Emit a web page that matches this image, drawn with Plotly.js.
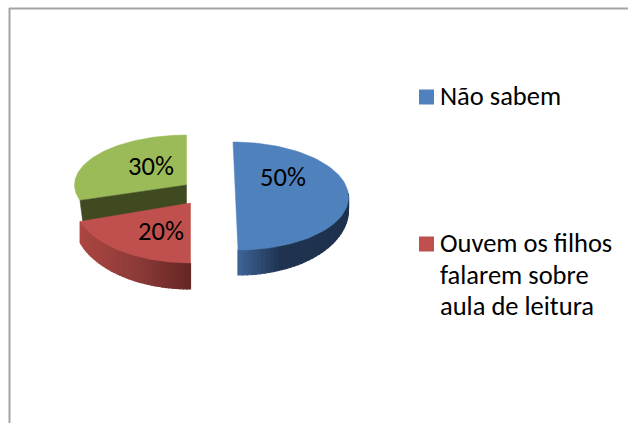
<!DOCTYPE html>
<html>
<head>
<meta charset="utf-8">
<script src="https://cdn.plot.ly/plotly-3.0.1.min.js"></script>
<style>html,body{margin:0;padding:0;background:#fff}</style>
</head>
<body>
<div id="chart" style="width:628px;height:423px"></div>
<script>
// Data
const sliceValues = [50, 20, 30];
const sliceLabels = ["50%", "20%", "30%"];
const legendNames = ["Não sabem", "Ouvem os filhos", "falarem sobre", "aula de leitura"];

// Drawing style (exploded, tilted 3D pie)
const topColors = ["#4f81bd", "#c0504d", "#9bbb59"];
const legendColors = ["#4f81bd", "#c0504d"];
const FONT = "Carlito, Calibri, Lato, 'Open Sans', sans-serif";
const geom = [
  {cx: 235.5, cy: 196, rx: 113, ry: 54, shear: -2.5, d0: 12, d1: 13,
   stops: [[238, [62, 100, 150]], [280, [31, 51, 80]], [350, [30, 50, 78]]]},
  {cx: 190.5, cy: 203, rx: 116, ry: 60, shear: 0, d0: 18.8, d1: 7.2,
   stops: [[80, [172, 70, 66]], [140, [138, 58, 55]], [191, [100, 38, 36]]]},
  {cx: 186.5, cy: 185, rx: 112, ry: 50, shear: 0, d0: 0, d1: 0, stops: []}
];
const labelPos = [[283, 179], [161, 233], [151, 168]];
const legendPos = [[440, 98], [440, 245], [440, 277], [440, 308]];
const swatchPos = [[426.5, 97], [426.5, 244]];

function pt(g, th) {
  return [g.cx + g.rx * Math.sin(th) + g.shear * Math.cos(th),
          g.cy - g.ry * Math.cos(th)];
}
function lowerEdgePoint(g, th) {
  const p = pt(g, th);
  return [p[0], p[1] + g.d0 + g.d1 * Math.abs(Math.cos(th))];
}
function wallColor(g, x) {
  const s = g.stops;
  let a = s[0], b = s[s.length - 1];
  for (let i = 0; i < s.length - 1; i++) if (x >= s[i][0] && x <= s[i + 1][0]) { a = s[i]; b = s[i + 1]; }
  const t = Math.max(0, Math.min(1, (x - a[0]) / ((b[0] - a[0]) || 1)));
  const c = a[1].map((v, i) => Math.round(v + (b[1][i] - v) * t));
  return `rgb(${c[0]},${c[1]},${c[2]})`;
}
function poly(xy, color, lw) {
  const c = xy.concat([xy[0]]);
  return {x: c.map(p => p[0]), y: c.map(p => p[1]), type: "scatter", mode: "lines",
          fill: "toself", fillcolor: color, line: {color: color, width: lw},
          hoverinfo: "skip", showlegend: false};
}

const total = sliceValues.reduce((a, b) => a + b, 0);
let acc = 0;
const ranges = sliceValues.map(v => { const r = [acc, acc + v]; acc += v; return r.map(u => u / total * 2 * Math.PI); });

function topFace(i) {
  const g = geom[i], [a, b] = ranges[i], pts = [[g.cx, g.cy]];
  for (let k = 0; k <= 80; k++) pts.push(pt(g, a + (b - a) * k / 80));
  return poly(pts, topColors[i], 0.5);
}
function wall(i, from, to) {
  const g = geom[i], out = [], n = 40;
  for (let k = 0; k < n; k++) {
    const t0 = from + (to - from) * k / n, t1 = from + (to - from) * (k + 1) / n;
    const p0 = pt(g, t0), p1 = pt(g, t1);
    out.push(poly([p0, p1, lowerEdgePoint(g, t1), lowerEdgePoint(g, t0)], wallColor(g, (p0[0] + p1[0]) / 2), 1.2));
  }
  return out;
}

const traces = [];
// green slice with its dark inner face
traces.push(topFace(2));
const gg = geom[2], corner = pt(gg, ranges[2][0]);
traces.push(poly([[gg.cx, gg.cy], corner, [corner[0] + 3, corner[1] + 23], [gg.cx, gg.cy + 19]], "#404a21", 0.5));
// red slice
traces.push(...wall(1, ranges[1][0], ranges[1][1]));
traces.push(topFace(1));
// blue slice
traces.push(...wall(0, Math.PI / 2 - 0.05, ranges[0][1]));
traces.push(topFace(0));

// value labels
traces.push({x: labelPos.map(p => p[0]), y: labelPos.map(p => p[1]), text: sliceLabels,
  type: "scatter", mode: "text", textposition: "middle center",
  textfont: {family: FONT, size: 26.5, color: "#000"}, hoverinfo: "skip", showlegend: false});
// legend swatches and text
traces.push({x: swatchPos.map(p => p[0]), y: swatchPos.map(p => p[1]), type: "scatter", mode: "markers",
  marker: {symbol: "square", size: 15, color: legendColors}, hoverinfo: "skip", showlegend: false});
traces.push({x: legendPos.map(p => p[0]), y: legendPos.map(p => p[1]), text: legendNames,
  type: "scatter", mode: "text", textposition: "middle right",
  textfont: {family: FONT, size: 26.5, color: "#000"}, hoverinfo: "skip", showlegend: false});

const layout = {
  width: 628, height: 423, margin: {l: 0, r: 0, t: 0, b: 0},
  paper_bgcolor: "#fff", plot_bgcolor: "#fff", showlegend: false,
  xaxis: {range: [0, 628], visible: false, fixedrange: true},
  yaxis: {range: [423, 0], visible: false, fixedrange: true},
  shapes: [
    {type: "line", xref: "x", yref: "y", x0: 9.5, x1: 9.5, y0: 8, y1: 423, line: {color: "#a3a3a3", width: 2}},
    {type: "line", xref: "x", yref: "y", x0: 9, x1: 628, y0: 8.5, y1: 8.5, line: {color: "#a3a3a3", width: 2}}
  ]
};
Plotly.newPlot("chart", traces, layout, {displayModeBar: false, staticPlot: true});
</script>
</body>
</html>
